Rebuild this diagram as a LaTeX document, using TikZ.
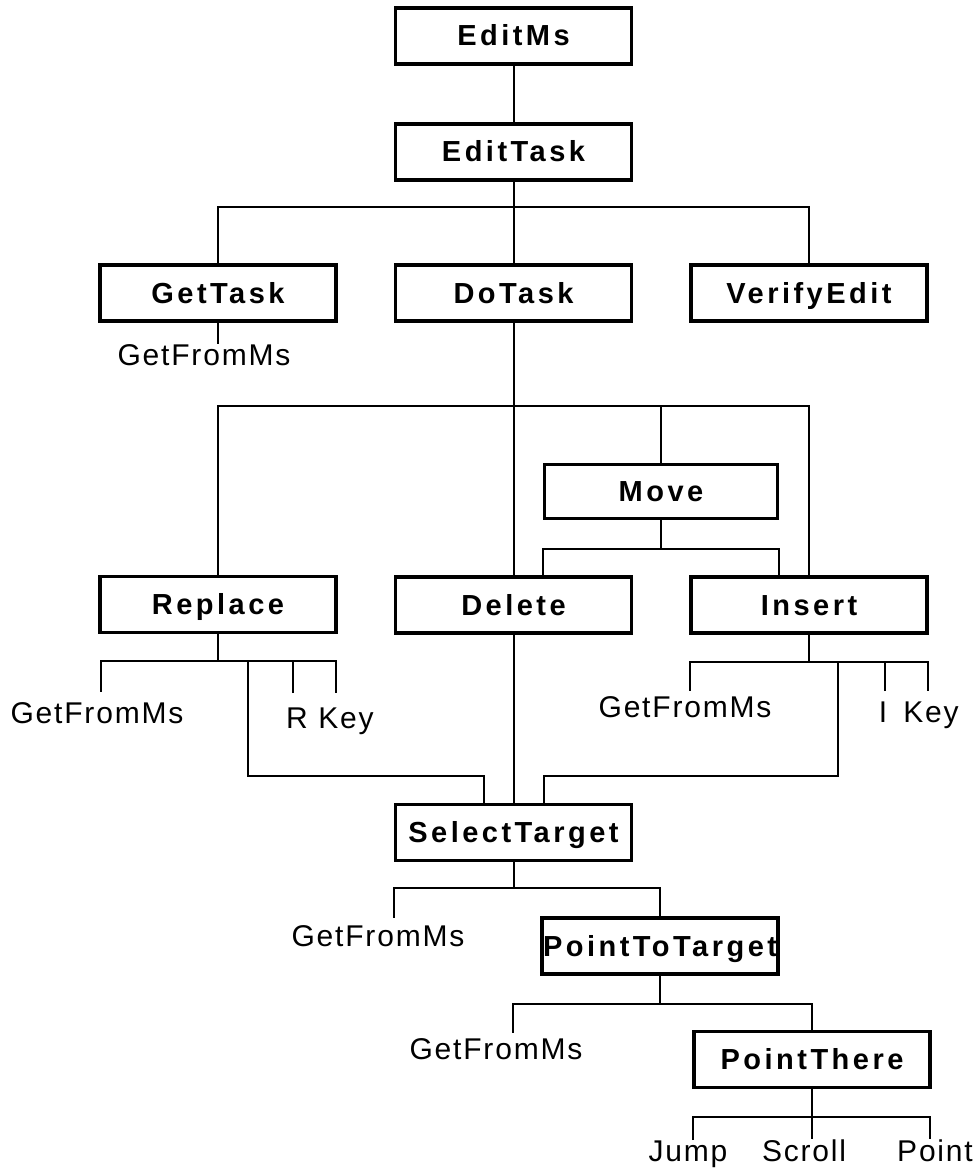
\documentclass[tikz,border=0pt]{standalone}
\usepackage{fontspec}
\setmainfont{Liberation Sans}
\newfontfamily\boxfont[LetterSpace=12]{Liberation Sans}
\newfontfamily\leaffont[LetterSpace=6]{Liberation Sans}
\usetikzlibrary{calc}
\begin{document}
\begin{tikzpicture}[x=1pt, y=-1pt,
  task/.style={draw, line width=3.5pt, minimum width=236pt, minimum height=56pt,
    inner sep=0pt, text height=20pt, text depth=0pt,
    font=\boxfont\bfseries\fontsize{29}{31}\selectfont},
  leaf/.style={inner sep=0pt, anchor=base,
    font=\leaffont\fontsize{30}{32}\selectfont},
  link/.style={line width=2pt}]
\useasboundingbox (0,0) rectangle (977,1174);

% operator boxes
\node[task] (editms)        at (513.5,36)    {EditMs};
\node[task] (edittask)      at (513.5,152)   {EditTask};
\node[task] (gettask)       at (218,293)     {GetTask};
\node[task] (dotask)        at (513.5,293)   {DoTask};
\node[task] (verifyedit)    at (809,293)     {VerifyEdit};
\node[task, minimum width=233pt, minimum height=54pt] (move) at (661,491.5) {Move};
\node[task] (replace)       at (218,604.5)   {Replace};
\node[task] (delete)        at (513.5,605)   {Delete};
\node[task] (insert)        at (809,605)     {Insert};
\node[task] (selecttarget)  at (513.5,832.5) {SelectTarget};
\node[task] (pointtotarget) at (660,946)     {PointToTarget};
\node[task] (pointthere)    at (812,1059.5)  {PointThere};

% primitive operators
\node[leaf] (gf1)    at (204,365)  {GetFromMs};
\node[leaf] (gf2)    at (97,723)   {GetFromMs};
\node[leaf] (rr)     at (297,728)  {R};
\node[leaf] (key1)   at (346,728)  {Key};
\node[leaf] (gf3)    at (685,717)  {GetFromMs};
\node[leaf] (ii)     at (883,722)  {I};
\node[leaf] (key2)   at (931,722)  {Key};
\node[leaf] (gf4)    at (378,946)  {GetFromMs};
\node[leaf] (gf5)    at (496,1059) {GetFromMs};
\node[leaf] (jump)   at (688,1161) {Jump};
\node[leaf] (scroll) at (804,1161) {Scroll};
\node[leaf] (point)  at (935,1161) {Point};

% branch points
\coordinate (eb) at ($(edittask.south)+(0,25)$);
\coordinate (db) at ($(dotask.south)+(0,83)$);
\coordinate (mb) at ($(move.south)+(0,29)$);
\coordinate (rb) at ($(replace.south)+(0,27)$);
\coordinate (ib) at ($(insert.south)+(0,27)$);
\coordinate (sb) at ($(selecttarget.south)+(0,26)$);
\coordinate (tb) at ($(pointtotarget.south)+(0,28)$);
\coordinate (pb) at ($(pointthere.south)+(0,28)$);

% ends of the short leaf stubs
\coordinate (gf2t)  at ($(gf2.north)+(4,-10)$);
\coordinate (rrt)   at ($(rr.north)+(-4,-14)$);
\coordinate (key1t) at ($(key1.north)+(-10,-14)$);
\coordinate (gf3t)  at ($(gf3.north)+(5,-5)$);
\coordinate (iit)   at ($(ii.north)+(2,-10)$);
\coordinate (key2t) at ($(key2.north)+(-3,-10)$);
\coordinate (gf4t)  at ($(gf4.north)+(16,-7)$);
\coordinate (gf5t)  at ($(gf5.north)+(17,-5)$);
\coordinate (jumpt) at ($(jump.north)+(5,0)$);
\coordinate (pointt) at ($(point.north)+(-5,0)$);

% long returns to SelectTarget
\coordinate (rlong) at ($(rb)+(30,0)$);
\coordinate (ilong) at ($(ib)+(29,0)$);
\coordinate (stl) at ($(selecttarget.north)+(-29.5,0)$);
\coordinate (str) at ($(selecttarget.north)+(30.5,0)$);

\begin{scope}[link]
  \draw (editms.south) -- (edittask.north);
  % EditTask
  \draw (edittask.south) -- (dotask.north);
  \draw (gettask.north) |- (eb) -| (verifyedit.north);
  \draw (gettask.south) -- (gettask.south |- gf1.north);
  % DoTask
  \draw (dotask.south) -- (delete.north);
  \draw (replace.north) |- (db) -| (insert.north);
  \draw (move.north) -- (move.north |- db);
  % Move
  \draw (move.south) -- (mb);
  \draw ($(delete.north)+(29,0)$) |- (mb) -| ($(insert.north)+(-30,0)$);
  % Replace
  \draw (replace.south) -- (rb);
  \draw (gf2t) |- (rb) -| (key1t);
  \draw (rrt) -- (rrt |- rb);
  \draw (rlong) -- ++(0,115) -| (stl);
  % Delete
  \draw (delete.south) -- (selecttarget.north);
  % Insert
  \draw (insert.south) -- (ib);
  \draw (gf3t) |- (ib) -| (key2t);
  \draw (iit) -- (iit |- ib);
  \draw (ilong) -- ++(0,114) -| (str);
  % SelectTarget
  \draw (selecttarget.south) -- (sb);
  \draw (gf4t) |- (sb) -| (pointtotarget.north);
  % PointToTarget
  \draw (pointtotarget.south) -- (tb);
  \draw (gf5t) |- (tb) -| (pointthere.north);
  % PointThere
  \draw (pointthere.south) -- (pointthere.south |- scroll.north);
  \draw (jumpt) |- (pb) -| (pointt);
\end{scope}
\end{tikzpicture}
\end{document}
